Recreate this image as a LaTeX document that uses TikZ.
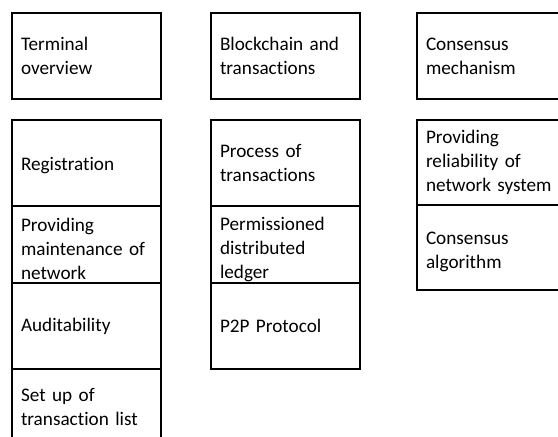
\documentclass[tikz,border=0pt]{standalone}
\usepackage{fontspec}
\setmainfont{Carlito}[RawFeature={-liga;-clig}]
% invisible struts that nudge a cell's text down (taller first line)
% or up (deeper last line) while it stays centred in its cell
\newcommand\dropstrut[1]{\rule{0pt}{#1}}
\newcommand\liftstrut[1]{\rule[-#1]{0pt}{#1}}
\begin{document}
\begin{tikzpicture}[x=1pt,y=-1pt,
  cell/.style={draw=black, line width=2.2pt, rectangle, anchor=north west,
    outer sep=0pt, inner xsep=9pt, inner ysep=0pt, align=left,
    font=\fontsize{19.2pt}{24pt}\selectfont},
  narrow/.style={cell, minimum width=149pt, text width=131pt},
  wide/.style={cell, minimum width=155pt, text width=137pt},
  tall/.style={minimum height=86pt},
  short/.style={minimum height=77pt}]
\useasboundingbox (0,0) rectangle (558,437);
\clip (0,0) rectangle (558,437);

% headings of the three groups
\node[narrow, tall] (term) at (12,13) {Terminal\\overview};
\node[narrow, tall] (chain) at (211,13) {Blockchain and\\transactions};
\node[wide, tall] (cons) at (417,13) {Consensus\\mechanism};

% terminal features
\node[narrow, tall] (reg) at (12,120) {\dropstrut{18.9pt}Registration};
\node[narrow, short] (maint) at (12,206) {\dropstrut{21.6pt}Providing\\maintenance of\\network};
\node[narrow, tall] (audit) at (12,283) {Auditability};
\node[narrow, tall] (txlist) at (12,369) {Set up of\\transaction list\liftstrut{10pt}};

% blockchain features
\node[narrow, tall] (proc) at (211,120) {Process of\\transactions};
\node[narrow, short] (ledger) at (211,206) {\dropstrut{23.6pt}Permissioned\\distributed\\ledger};
\node[narrow, tall] (p2p) at (211,283) {P2P Protocol};

% consensus features
\node[wide, minimum height=85pt] (rel) at (417,120) {Providing\\reliability of\\network system};
\node[wide, minimum height=85pt] (algo) at (417,205) {\dropstrut{20.6pt}Consensus\\algorithm};
\end{tikzpicture}
\end{document}
